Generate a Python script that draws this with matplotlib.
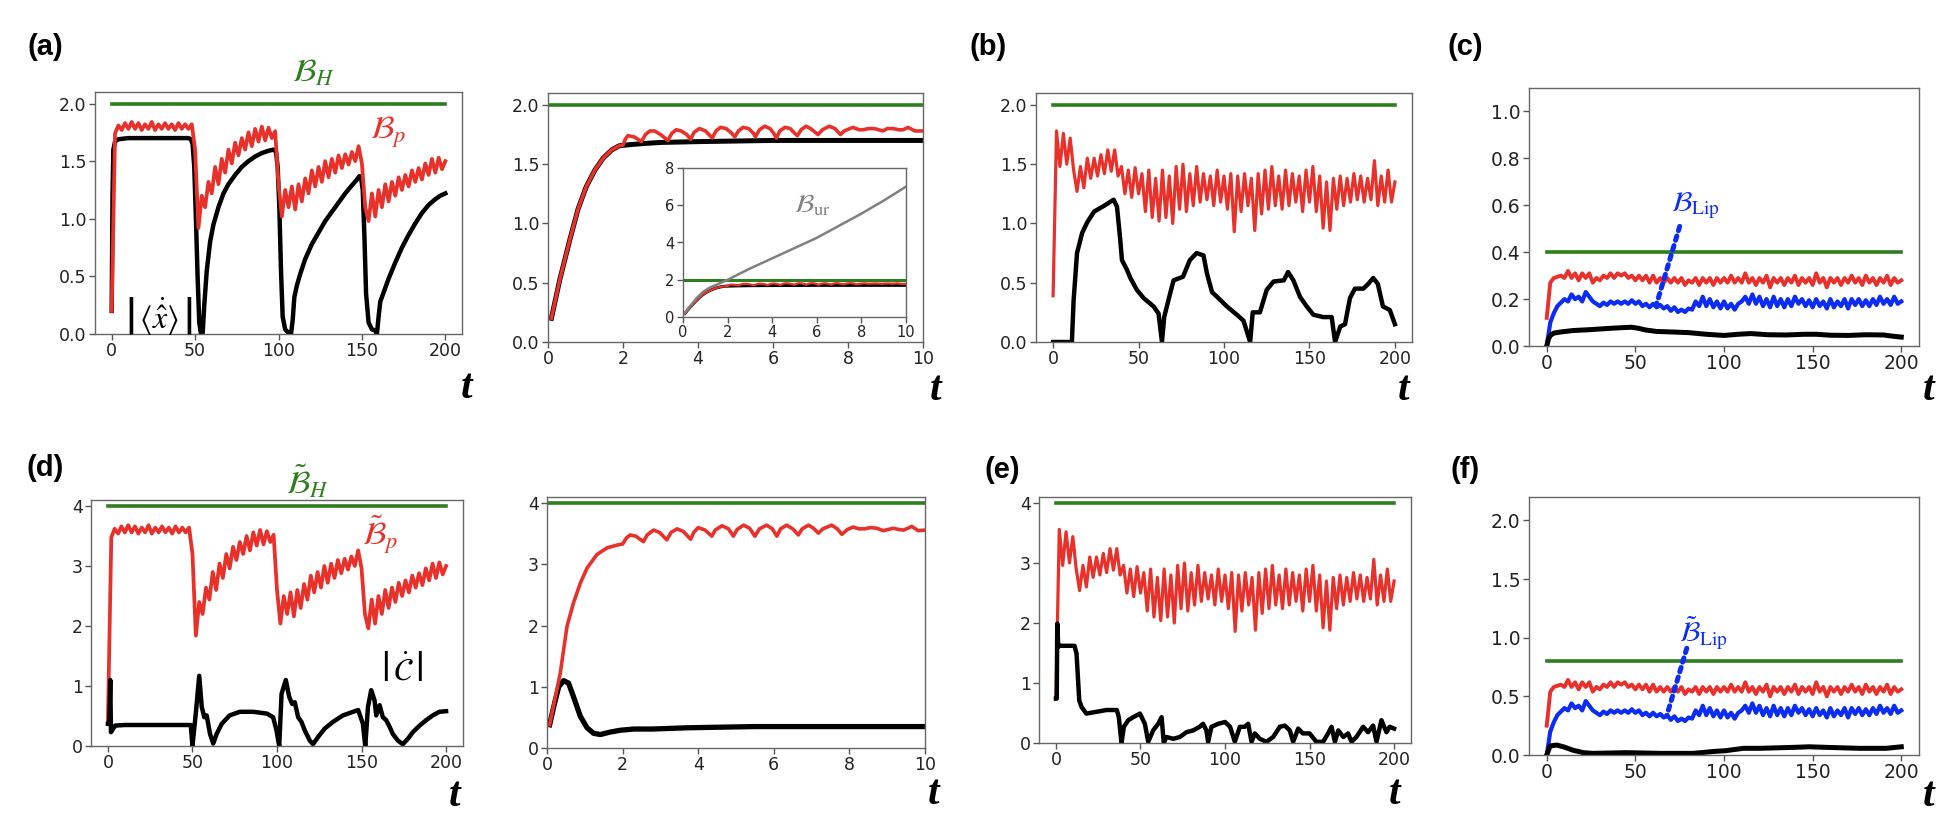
import numpy as np
import matplotlib
matplotlib.use('Agg')
import matplotlib.pyplot as plt

plt.rcParams['mathtext.fontset'] = 'stix'

W, H = 1942, 830
GREEN = '#2e7d1f'
RED = '#e8312a'
BLUE = '#0a2cf5'
GRAY = '#808080'

# ---------------- data ----------------
# panel (a): B_p, sampled every 2 time units from 0 to 200
a_red = [0.20, 1.74, 1.81, 1.77, 1.83, 1.78, 1.84, 1.78, 1.83, 1.77, 1.82, 1.78, 1.84, 1.77, 1.82, 1.78,
         1.83, 1.78, 1.82, 1.77, 1.83, 1.78, 1.82, 1.78, 1.82, 1.60, 0.92, 1.20, 1.10, 1.32, 1.22, 1.45,
         1.30, 1.52, 1.40, 1.60, 1.48, 1.66, 1.55, 1.70, 1.60, 1.75, 1.63, 1.78, 1.67, 1.80, 1.68, 1.79,
         1.70, 1.76, 1.30, 1.02, 1.25, 1.10, 1.28, 1.08, 1.30, 1.15, 1.35, 1.22, 1.42, 1.28, 1.45, 1.32,
         1.50, 1.36, 1.52, 1.40, 1.55, 1.44, 1.56, 1.47, 1.58, 1.50, 1.63, 1.48, 1.10, 0.98, 1.22, 1.02,
         1.25, 1.10, 1.30, 1.15, 1.32, 1.20, 1.36, 1.25, 1.38, 1.28, 1.42, 1.32, 1.44, 1.34, 1.48, 1.38,
         1.52, 1.40, 1.53, 1.43, 1.50]
# |<x dot>| as (t, value)
a_black = [(0, 0.2), (0.5, 1.2), (1, 1.6), (2, 1.67), (4, 1.69), (10, 1.70), (30, 1.70), (46, 1.70),
           (47.5, 1.69), (48.5, 1.65), (49.5, 1.45), (50.5, 1.0), (51.5, 0.5), (52.5, 0.1), (53.5, 0.0),
           (54.5, 0.0), (55.5, 0.25), (57, 0.55), (59, 0.8), (61, 0.95), (64, 1.1), (67, 1.22), (70, 1.3),
           (74, 1.38), (78, 1.45), (82, 1.5), (86, 1.54), (90, 1.57), (94, 1.59), (97, 1.60), (98.5, 1.58),
           (99.5, 1.45), (100.5, 1.1), (101.5, 0.55), (102.5, 0.15), (104, 0.04), (106, 0.01), (107.5, 0.0),
           (108.5, 0.12), (109.5, 0.32), (111, 0.42), (113, 0.52), (116, 0.65), (120, 0.78), (124, 0.88),
           (128, 0.98), (132, 1.06), (136, 1.14), (140, 1.22), (144, 1.29), (147, 1.34), (148.5, 1.37),
           (149.5, 1.36), (150.5, 1.25), (151.5, 0.85), (152.5, 0.35), (154, 0.1), (156, 0.04), (158, 0.03),
           (159, 0.0), (160, 0.15), (161, 0.28), (163, 0.36), (166, 0.48), (170, 0.62), (174, 0.75),
           (178, 0.86), (182, 0.96), (186, 1.05), (190, 1.12), (194, 1.17), (197, 1.20), (200, 1.22)]

# panel (a) zoom 0..10 and inset
a2_red = [(0.09, 0.20), (0.31, 0.52), (0.58, 0.86), (0.80, 1.12), (1.02, 1.31), (1.25, 1.45), (1.47, 1.55),
          (1.70, 1.62), (1.90, 1.655), (2.0, 1.66), (2.06, 1.71), (2.13, 1.74), (2.3, 1.73), (2.49, 1.69),
          (2.6, 1.75), (2.72, 1.78), (2.84, 1.78), (3.0, 1.75), (3.2, 1.70), (3.3, 1.76), (3.42, 1.79),
          (3.55, 1.78), (3.7, 1.75), (3.8, 1.71), (3.9, 1.77), (4.04, 1.80), (4.2, 1.78), (4.38, 1.72),
          (4.48, 1.78), (4.6, 1.81), (4.75, 1.80), (4.9, 1.76), (4.98, 1.73), (5.08, 1.78), (5.2, 1.81),
          (5.35, 1.80), (5.48, 1.76), (5.53, 1.73), (5.64, 1.79), (5.78, 1.82), (5.92, 1.80), (6.02, 1.76),
          (6.09, 1.72), (6.18, 1.78), (6.32, 1.81), (6.46, 1.80), (6.58, 1.76), (6.65, 1.74), (6.75, 1.79),
          (6.88, 1.82), (7.0, 1.80), (7.12, 1.77), (7.2, 1.75), (7.32, 1.79), (7.5, 1.82), (7.65, 1.80),
          (7.8, 1.75), (7.9, 1.78), (8.05, 1.80), (8.13, 1.81), (8.3, 1.79), (8.4, 1.79), (8.55, 1.80),
          (8.7, 1.80), (8.93, 1.78), (9.05, 1.80), (9.2, 1.80), (9.35, 1.79), (9.47, 1.79), (9.6, 1.81),
          (9.78, 1.78), (10.0, 1.78)]
a2_black = [(0.09, 0.20), (0.31, 0.52), (0.58, 0.86), (0.80, 1.12), (1.02, 1.31), (1.25, 1.45), (1.47, 1.55),
            (1.70, 1.62), (1.90, 1.655), (2.2, 1.665), (2.6, 1.675), (3.0, 1.683), (4.0, 1.69), (5.0, 1.695),
            (6.0, 1.70), (8.0, 1.70), (10.0, 1.70)]
b_ur = [(0.0, 0.1), (0.3, 0.55), (0.6, 1.0), (0.9, 1.35), (1.2, 1.58), (1.6, 1.78), (2.0, 2.0), (3.0, 2.6),
        (4.0, 3.15), (5.0, 3.7), (6.0, 4.25), (7.0, 4.9), (8.0, 5.55), (9.0, 6.25), (10.0, 7.0)]

# panel (b)
b_red = [0.39, 1.78, 1.48, 1.76, 1.50, 1.72, 1.45, 1.27, 1.48, 1.30, 1.55, 1.38, 1.55, 1.40, 1.58, 1.42,
         1.62, 1.44, 1.62, 1.40, 1.48, 1.25, 1.45, 1.22, 1.47, 1.25, 1.42, 1.10, 1.45, 1.05, 1.38, 1.02,
         1.45, 1.05, 1.40, 1.00, 1.48, 1.12, 1.50, 1.10, 1.42, 1.15, 1.48, 1.18, 1.42, 1.20, 1.40, 1.15,
         1.45, 1.18, 1.40, 1.12, 1.42, 0.93, 1.40, 1.10, 1.42, 1.15, 1.38, 0.94, 1.42, 1.08, 1.45, 1.12,
         1.48, 1.15, 1.40, 1.12, 1.45, 1.15, 1.42, 1.18, 1.40, 1.10, 1.45, 1.18, 1.48, 1.10, 1.40, 0.96,
         1.35, 0.94, 1.38, 1.12, 1.40, 1.15, 1.38, 1.18, 1.42, 1.20, 1.40, 1.18, 1.38, 1.20, 1.53, 1.15,
         1.40, 1.18, 1.45, 1.18, 1.35]
b_black = [(0, 0), (11, 0), (12, 0.35), (14, 0.75), (17, 0.92), (20, 1.01), (24, 1.10), (30, 1.15),
           (35.4, 1.20), (37.4, 1.14), (39.3, 0.86), (40.3, 0.69), (43.2, 0.61), (45.2, 0.54), (49, 0.44),
           (53, 0.37), (58.8, 0.30), (61.7, 0.24), (63.7, 0.0), (65, 0.21), (68.5, 0.41), (70.5, 0.52),
           (76, 0.55), (80, 0.69), (84, 0.75), (88, 0.73), (90, 0.58), (93, 0.42), (96, 0.38), (101.7, 0.30),
           (107.5, 0.23), (111.4, 0.18), (115.3, 0.0), (116.8, 0.25), (121, 0.25), (125, 0.44), (129, 0.51),
           (135, 0.52), (137.5, 0.59), (140.6, 0.52), (144.5, 0.38), (148.4, 0.30), (152.3, 0.23),
           (158, 0.21), (163, 0.21), (165, 0.0), (168, 0.13), (170.8, 0.15), (173.7, 0.37), (176.6, 0.45),
           (181.5, 0.45), (184.4, 0.49), (187.3, 0.54), (190, 0.49), (193, 0.30), (197, 0.27), (200, 0.15)]

# panel (c)
c_red = [0.12, 0.27, 0.29, 0.295, 0.30, 0.29, 0.32, 0.29, 0.31, 0.28, 0.31, 0.29, 0.31, 0.27, 0.29, 0.28,
         0.30, 0.29, 0.31, 0.29, 0.31, 0.30, 0.31, 0.29, 0.30, 0.28, 0.30, 0.28, 0.30, 0.27, 0.30, 0.27,
         0.29, 0.27, 0.29, 0.27, 0.29, 0.27, 0.29, 0.26, 0.28, 0.27, 0.29, 0.26, 0.29, 0.27, 0.29, 0.26,
         0.29, 0.27, 0.29, 0.27, 0.30, 0.27, 0.29, 0.27, 0.31, 0.27, 0.29, 0.26, 0.29, 0.27, 0.30, 0.25,
         0.29, 0.27, 0.29, 0.26, 0.29, 0.27, 0.30, 0.26, 0.29, 0.27, 0.29, 0.26, 0.31, 0.27, 0.29, 0.25,
         0.29, 0.27, 0.29, 0.26, 0.29, 0.27, 0.30, 0.27, 0.29, 0.26, 0.30, 0.27, 0.29, 0.26, 0.29, 0.27,
         0.30, 0.26, 0.29, 0.27, 0.28]
c_blue = [0.00, 0.10, 0.14, 0.17, 0.185, 0.20, 0.19, 0.22, 0.20, 0.21, 0.19, 0.23, 0.21, 0.19, 0.18, 0.17,
          0.185, 0.175, 0.19, 0.18, 0.19, 0.18, 0.19, 0.18, 0.195, 0.18, 0.19, 0.17, 0.18, 0.165, 0.18,
          0.165, 0.175, 0.16, 0.17, 0.15, 0.165, 0.145, 0.155, 0.145, 0.16, 0.155, 0.19, 0.17, 0.21, 0.17,
          0.20, 0.165, 0.19, 0.16, 0.19, 0.16, 0.18, 0.155, 0.18, 0.19, 0.21, 0.18, 0.22, 0.18, 0.21, 0.17,
          0.20, 0.165, 0.21, 0.17, 0.20, 0.165, 0.20, 0.17, 0.21, 0.18, 0.20, 0.17, 0.195, 0.165, 0.20,
          0.17, 0.19, 0.16, 0.20, 0.165, 0.19, 0.17, 0.20, 0.16, 0.20, 0.175, 0.20, 0.17, 0.195, 0.17,
          0.20, 0.175, 0.21, 0.18, 0.20, 0.175, 0.21, 0.18, 0.19]
c_black = [(0, 0.0), (1, 0.03), (2, 0.045), (4, 0.055), (8, 0.06), (15, 0.066), (25, 0.07), (35, 0.075),
           (42, 0.078), (48, 0.08), (52, 0.075), (56, 0.068), (62, 0.062), (70, 0.06), (80, 0.057),
           (90, 0.05), (100, 0.045), (108, 0.05), (115, 0.053), (125, 0.048), (135, 0.047), (145, 0.05),
           (152, 0.05), (160, 0.046), (170, 0.045), (180, 0.048), (190, 0.047), (195, 0.042), (200, 0.038)]

# panel (d)
d_red = [0.40, 3.48, 3.62, 3.54, 3.66, 3.56, 3.68, 3.56, 3.66, 3.54, 3.64, 3.56, 3.68, 3.54, 3.64, 3.56,
         3.66, 3.56, 3.64, 3.54, 3.66, 3.56, 3.64, 3.56, 3.64, 3.20, 1.84, 2.40, 2.20, 2.64, 2.44, 2.90,
         2.60, 3.04, 2.80, 3.20, 2.96, 3.32, 3.10, 3.40, 3.20, 3.50, 3.26, 3.56, 3.34, 3.60, 3.36, 3.58,
         3.40, 3.52, 2.60, 2.04, 2.50, 2.20, 2.56, 2.16, 2.60, 2.30, 2.70, 2.44, 2.84, 2.56, 2.90, 2.64,
         3.00, 2.72, 3.04, 2.80, 3.10, 2.88, 3.12, 2.94, 3.16, 3.00, 3.26, 2.96, 2.20, 1.96, 2.44, 2.04,
         2.50, 2.20, 2.60, 2.30, 2.64, 2.40, 2.72, 2.50, 2.76, 2.56, 2.84, 2.64, 2.88, 2.68, 2.96, 2.76,
         3.04, 2.80, 3.06, 2.86, 3.00]
d_black = [(0, 0.37), (0.8, 0.37), (1.4, 1.10), (1.8, 0.23), (4.3, 0.34), (10, 0.35), (30, 0.35), (49, 0.35),
           (50, 0.0), (52, 0.55), (54, 1.17), (55.5, 0.65), (57, 0.48), (58.4, 0.51), (60.4, 0.20),
           (62.3, 0.04), (64.3, 0.20), (67.3, 0.37), (72, 0.51), (78, 0.57), (86, 0.57), (94, 0.54),
           (97.7, 0.48), (99.7, 0.26), (101.3, 0.0), (102.7, 0.87), (105.2, 1.10), (107.2, 0.82), (109, 0.70),
           (110.5, 0.73), (112.5, 0.48), (114.5, 0.40), (116.4, 0.26), (119.4, 0.09), (121.3, 0.03),
           (124.3, 0.15), (128.2, 0.29), (133, 0.40), (139, 0.51), (145, 0.57), (148, 0.60), (150.8, 0.37),
           (152.2, 0.0), (153.8, 0.65), (155.7, 0.93), (157.7, 0.76), (158.7, 0.51), (160.7, 0.68),
           (162.6, 0.48), (164.6, 0.43), (166.6, 0.32), (168.5, 0.20), (171.5, 0.09), (174.4, 0.03),
           (177.4, 0.12), (180.3, 0.23), (184.3, 0.34), (188.2, 0.43), (192.1, 0.51), (196, 0.57), (200, 0.58)]

# panel (d) zoom 0..10
d2_red = [(0.07, 0.38), (0.35, 1.22), (0.53, 1.99), (0.70, 2.37), (0.88, 2.69), (1.06, 2.94), (1.32, 3.16),
          (1.59, 3.27), (1.89, 3.32), (2.0, 3.33), (2.1, 3.43), (2.2, 3.48), (2.35, 3.46), (2.55, 3.37),
          (2.65, 3.48), (2.82, 3.56), (2.98, 3.52), (3.17, 3.40), (3.28, 3.52), (3.44, 3.58), (3.6, 3.54),
          (3.8, 3.41), (3.88, 3.52), (4.0, 3.60), (4.18, 3.56), (4.36, 3.46), (4.45, 3.56), (4.63, 3.63),
          (4.8, 3.58), (4.93, 3.46), (5.03, 3.57), (5.2, 3.64), (5.36, 3.59), (5.5, 3.46), (5.62, 3.58),
          (5.81, 3.64), (5.96, 3.58), (6.08, 3.46), (6.18, 3.58), (6.34, 3.64), (6.5, 3.58), (6.65, 3.48),
          (6.75, 3.58), (6.92, 3.64), (7.05, 3.59), (7.18, 3.51), (7.3, 3.58), (7.53, 3.64), (7.68, 3.58),
          (7.8, 3.49), (7.95, 3.57), (8.1, 3.61), (8.25, 3.58), (8.41, 3.58), (8.55, 3.60), (8.72, 3.59),
          (8.9, 3.55), (9.16, 3.59), (9.3, 3.57), (9.43, 3.56), (9.55, 3.59), (9.65, 3.62), (9.82, 3.55),
          (10.0, 3.56)]
d2_black = [(0.07, 0.38), (0.18, 0.68), (0.31, 1.0), (0.44, 1.1), (0.57, 1.06), (0.7, 0.84), (0.88, 0.52),
            (1.06, 0.33), (1.23, 0.24), (1.41, 0.22), (1.67, 0.26), (1.94, 0.29), (2.3, 0.31), (2.8, 0.31),
            (3.7, 0.33), (5.5, 0.35), (10, 0.35)]

# panel (e)
e_red = [0.76, 3.56, 2.96, 3.52, 3.00, 3.44, 2.90, 2.54, 2.96, 2.60, 3.10, 2.76, 3.10, 2.80, 3.16, 2.84,
         3.24, 2.88, 3.24, 2.80, 2.96, 2.50, 2.90, 2.44, 2.94, 2.50, 2.84, 2.20, 2.90, 2.10, 2.76, 2.04,
         2.90, 2.10, 2.80, 2.00, 2.96, 2.24, 3.00, 2.20, 2.84, 2.30, 2.96, 2.36, 2.84, 2.40, 2.80, 2.30,
         2.90, 2.36, 2.80, 2.24, 2.84, 1.86, 2.80, 2.20, 2.84, 2.30, 2.76, 1.88, 2.84, 2.16, 2.90, 2.24,
         2.96, 2.30, 2.80, 2.24, 2.90, 2.30, 2.84, 2.36, 2.80, 2.20, 2.90, 2.36, 2.96, 2.20, 2.80, 1.92,
         2.70, 1.88, 2.76, 2.24, 2.80, 2.30, 2.76, 2.36, 2.84, 2.40, 2.80, 2.36, 2.76, 2.40, 3.06, 2.30,
         2.80, 2.36, 2.90, 2.36, 2.70]
e_black = [(0, 0.74), (0.5, 0.74), (0.8, 1.99), (1.4, 1.60), (2, 1.62), (11, 1.62), (12.2, 1.49), (13.8, 0.71),
           (15.2, 0.60), (18, 0.49), (24, 0.52), (30, 0.55), (36, 0.55), (37.2, 0.43), (38.8, 0.0),
           (40.2, 0.27), (42.8, 0.38), (45.7, 0.43), (49.7, 0.49), (52.6, 0.32), (54.6, 0.02), (57.5, 0.21),
           (60.5, 0.32), (62.5, 0.43), (63.8, 0.0), (65.4, 0.10), (69.4, 0.07), (73.3, 0.10), (77.2, 0.18),
           (81.2, 0.21), (85, 0.27), (87, 0.32), (89, 0.21), (90, 0.02), (92, 0.27), (96, 0.32), (100, 0.35),
           (103, 0.27), (105.8, 0.02), (108.8, 0.27), (111.7, 0.27), (113.7, 0.32), (115.7, 0.02),
           (117.6, 0.16), (120.6, 0.07), (124.5, 0.02), (128.5, 0.10), (132.4, 0.27), (135.4, 0.29),
           (138.3, 0.21), (140.3, 0.02), (143.3, 0.24), (146, 0.16), (150, 0.16), (154, 0.02), (158, 0.02),
           (161, 0.16), (163, 0.27), (165, 0.02), (167, 0.21), (170, 0.10), (172.8, 0.16), (174.8, 0.02),
           (177.7, 0.10), (181.7, 0.27), (184.6, 0.18), (187.6, 0.29), (189.6, 0.02), (192.5, 0.38),
           (195.5, 0.18), (197.4, 0.27), (200, 0.24)]

# panel (f)
f_red = [0.25, 0.54, 0.58, 0.59, 0.60, 0.58, 0.64, 0.58, 0.62, 0.56, 0.62, 0.58, 0.62, 0.54, 0.58, 0.56,
         0.60, 0.58, 0.62, 0.58, 0.62, 0.60, 0.62, 0.58, 0.60, 0.56, 0.60, 0.56, 0.60, 0.54, 0.60, 0.54,
         0.58, 0.54, 0.58, 0.54, 0.58, 0.54, 0.58, 0.52, 0.56, 0.54, 0.58, 0.52, 0.58, 0.54, 0.58, 0.52,
         0.58, 0.54, 0.58, 0.54, 0.60, 0.54, 0.58, 0.54, 0.62, 0.54, 0.58, 0.52, 0.58, 0.54, 0.60, 0.50,
         0.58, 0.54, 0.58, 0.52, 0.58, 0.54, 0.60, 0.52, 0.58, 0.54, 0.58, 0.52, 0.62, 0.54, 0.58, 0.50,
         0.58, 0.54, 0.58, 0.52, 0.58, 0.54, 0.60, 0.54, 0.58, 0.52, 0.60, 0.54, 0.58, 0.52, 0.58, 0.54,
         0.60, 0.52, 0.58, 0.54, 0.56]
f_blue = [0.00, 0.20, 0.28, 0.34, 0.37, 0.40, 0.38, 0.44, 0.40, 0.42, 0.38, 0.46, 0.42, 0.38, 0.36, 0.34,
          0.37, 0.35, 0.38, 0.36, 0.38, 0.36, 0.38, 0.36, 0.39, 0.36, 0.38, 0.34, 0.36, 0.33, 0.36, 0.33,
          0.35, 0.32, 0.34, 0.30, 0.33, 0.29, 0.31, 0.29, 0.32, 0.31, 0.38, 0.34, 0.42, 0.34, 0.40, 0.33,
          0.38, 0.32, 0.38, 0.32, 0.36, 0.31, 0.36, 0.38, 0.42, 0.36, 0.44, 0.36, 0.42, 0.34, 0.40, 0.33,
          0.42, 0.34, 0.40, 0.33, 0.40, 0.34, 0.42, 0.36, 0.40, 0.34, 0.39, 0.33, 0.40, 0.34, 0.38, 0.32,
          0.40, 0.33, 0.38, 0.34, 0.40, 0.32, 0.40, 0.35, 0.40, 0.34, 0.39, 0.34, 0.40, 0.35, 0.42, 0.36,
          0.40, 0.35, 0.42, 0.36, 0.38]
f_black = [(0, 0.0), (1.9, 0.077), (5.6, 0.085), (9.4, 0.07), (15, 0.04), (20.7, 0.02), (26, 0.014),
           (45, 0.02), (64, 0.014), (82.6, 0.014), (94, 0.03), (101, 0.037), (111, 0.057), (120, 0.057),
           (139, 0.065), (148, 0.07), (158, 0.065), (176.5, 0.057), (191.5, 0.057), (200, 0.07)]

# bounds (green lines)
bound_a, bound_c, bound_d, bound_f = 2.0, 0.4, 4.0, 0.8


# ---------------- helpers ----------------
def box(x0, y0, x1, y1):
    return [x0 / W, 1 - y1 / H, (x1 - x0) / W, (y1 - y0) / H]


def ftext(x, y, s, **kw):
    fig.text(x / W, 1 - y / H, s, ha='center', va='center', **kw)


def style(ax, xt, yt, fs=12.5):
    ax.set_xticks(xt)
    ax.set_yticks(yt)
    ax.tick_params(direction='out', length=4, width=1, color='#555555', labelcolor='#222222',
                   labelsize=fs, pad=2)
    for s in ax.spines.values():
        s.set_color('#666666')
        s.set_linewidth(1.0)


def series(vals, t_end=200):
    return np.linspace(0, t_end, len(vals)), np.array(vals)


def pairs(p):
    a = np.array(p)
    return a[:, 0], a[:, 1]


fig = plt.figure(figsize=(W / 100, H / 100), dpi=100)
LONG_X = [0, 50, 100, 150, 200]
DOTS = (0, (0.9, 1.1))

# ---- (a)
ax = fig.add_axes(box(95, 92, 462, 334))
ax.plot([0, 200], [bound_a, bound_a], color=GREEN, lw=2.6)
ax.plot(*pairs(a_black), color='black', lw=3.2)
ax.plot(*series(a_red), color=RED, lw=2.7)
ax.set_xlim(-10, 210)
ax.set_ylim(0, 2.1)
style(ax, LONG_X, [0, 0.5, 1.0, 1.5, 2.0])

# ---- (a) short time window
ax = fig.add_axes(box(548, 93, 923, 342))
ax.plot([0, 10], [bound_a, bound_a], color=GREEN, lw=2.6)
ax.plot(*pairs(a2_black), color='black', lw=3.6)
ax.plot(*pairs(a2_red), color=RED, lw=2.6)
ax.set_xlim(0, 10)
ax.set_ylim(0, 2.1)
style(ax, [0, 2, 4, 6, 8, 10], [0, 0.5, 1.0, 1.5, 2.0])

ins = fig.add_axes(box(683, 168, 906, 317))
ins.plot([0, 10], [bound_a, bound_a], color=GREEN, lw=2.2)
ins.plot(*pairs(a2_black), color='black', lw=2.2)
ins.plot(*pairs(a2_red), color=RED, lw=1.6)
ins.plot(*pairs(b_ur), color=GRAY, lw=1.8)
ins.set_xlim(0, 10)
ins.set_ylim(0, 8)
style(ins, [0, 2, 4, 6, 8, 10], [0, 2, 4, 6, 8], fs=10.5)

# ---- (b)
ax = fig.add_axes(box(1036, 93, 1412, 342))
ax.plot([0, 200], [bound_a, bound_a], color=GREEN, lw=2.6)
ax.plot(*series(b_red), color=RED, lw=2.3)
ax.plot(*pairs(b_black), color='black', lw=3.2)
ax.set_xlim(-10, 210)
ax.set_ylim(0, 2.1)
style(ax, LONG_X, [0, 0.5, 1.0, 1.5, 2.0])

# ---- (c)
ax = fig.add_axes(box(1529, 88, 1919, 346))
ax.plot([0, 200], [bound_c, bound_c], color=GREEN, lw=2.6)
ax.plot(*series(c_red), color=RED, lw=2.8)
ax.plot(*series(c_blue), color=BLUE, lw=3.0)
ax.plot(*pairs(c_black), color='black', lw=3.6)
ax.annotate('', xy=(62, 0.18), xytext=(75, 0.51),
            arrowprops=dict(arrowstyle='-', ls=DOTS, lw=3.6, color=BLUE, shrinkA=0, shrinkB=0))
ax.set_xlim(-10, 210)
ax.set_ylim(0, 1.1)
style(ax, LONG_X, [0, 0.2, 0.4, 0.6, 0.8, 1.0], fs=13.5)

# ---- (d)
ax = fig.add_axes(box(91, 500, 463, 746))
ax.plot([0, 200], [bound_d, bound_d], color=GREEN, lw=2.6)
ax.plot(*series(d_red), color=RED, lw=2.7)
ax.plot(*pairs(d_black), color='black', lw=3.2)
ax.set_xlim(-10, 210)
ax.set_ylim(0, 4.1)
style(ax, LONG_X, [0, 1, 2, 3, 4])

# ---- (d) short time window
ax = fig.add_axes(box(547, 497, 925, 748))
ax.plot([0, 10], [bound_d, bound_d], color=GREEN, lw=2.6)
ax.plot(*pairs(d2_black), color='black', lw=3.8)
ax.plot(*pairs(d2_red), color=RED, lw=2.6)
ax.set_xlim(0, 10)
ax.set_ylim(0, 4.1)
style(ax, [0, 2, 4, 6, 8, 10], [0, 1, 2, 3, 4])

# ---- (e)
ax = fig.add_axes(box(1039, 497, 1411, 743))
ax.plot([0, 200], [bound_d, bound_d], color=GREEN, lw=2.6)
ax.plot(*series(e_red), color=RED, lw=2.3)
ax.plot(*pairs(e_black), color='black', lw=3.2)
ax.set_xlim(-10, 210)
ax.set_ylim(0, 4.1)
style(ax, LONG_X, [0, 1, 2, 3, 4])

# ---- (f)
ax = fig.add_axes(box(1529, 497, 1919, 755))
ax.plot([0, 200], [bound_f, bound_f], color=GREEN, lw=2.6)
ax.plot(*series(f_red), color=RED, lw=2.8)
ax.plot(*series(f_blue), color=BLUE, lw=3.0)
ax.plot(*pairs(f_black), color='black', lw=3.6)
ax.annotate('', xy=(67.6, 0.33), xytext=(79, 0.91),
            arrowprops=dict(arrowstyle='-', ls=DOTS, lw=3.6, color=BLUE, shrinkA=0, shrinkB=0))
ax.set_xlim(-10, 210)
ax.set_ylim(0, 2.2)
style(ax, LONG_X, [0, 0.5, 1.0, 1.5, 2.0], fs=13.5)

# ---------------- labels ----------------
lab = dict(fontsize=21, fontweight='bold', family='Liberation Sans')
for s, x, y in [('(a)', 45, 47), ('(b)', 988, 47), ('(c)', 1465, 47),
                ('(d)', 45, 468), ('(e)', 1002, 470), ('(f)', 1465, 470)]:
    ftext(x, y, s, **lab)

tlab = dict(fontsize=30, fontweight='bold', fontstyle='italic', family='Liberation Serif')
for x, y in [(467, 388), (936, 390), (1404, 390), (1929, 390),
             (455, 796), (934, 794), (1395, 794), (1929, 796)]:
    ftext(x, y, 't', **tlab)

ftext(313, 73, r'$\mathcal{B}_H$', color=GREEN, fontsize=23)
ftext(388, 132, r'$\mathcal{B}_p$', color=RED, fontsize=23)
ftext(159, 316, r'$\left|\,\langle\dot{\hat{x}}\rangle\,\right|$', color='black', fontsize=23)
ftext(812, 205, r'$\mathcal{B}_{\mathrm{ur}}$', color=GRAY, fontsize=19)
ftext(1695, 206, r'$\mathcal{B}_{\mathrm{Lip}}$', color=BLUE, fontsize=20)
ftext(307, 482, r'$\tilde{\mathcal{B}}_H$', color=GREEN, fontsize=23)
ftext(380, 535, r'$\tilde{\mathcal{B}}_p$', color=RED, fontsize=23)
ftext(402, 670, r'$\left|\,\dot{\mathcal{C}}\,\right|$', color='black', fontsize=23)
ftext(1703, 633, r'$\tilde{\mathcal{B}}_{\mathrm{Lip}}$', color=BLUE, fontsize=20)

fig.savefig('out.png', dpi=100)
